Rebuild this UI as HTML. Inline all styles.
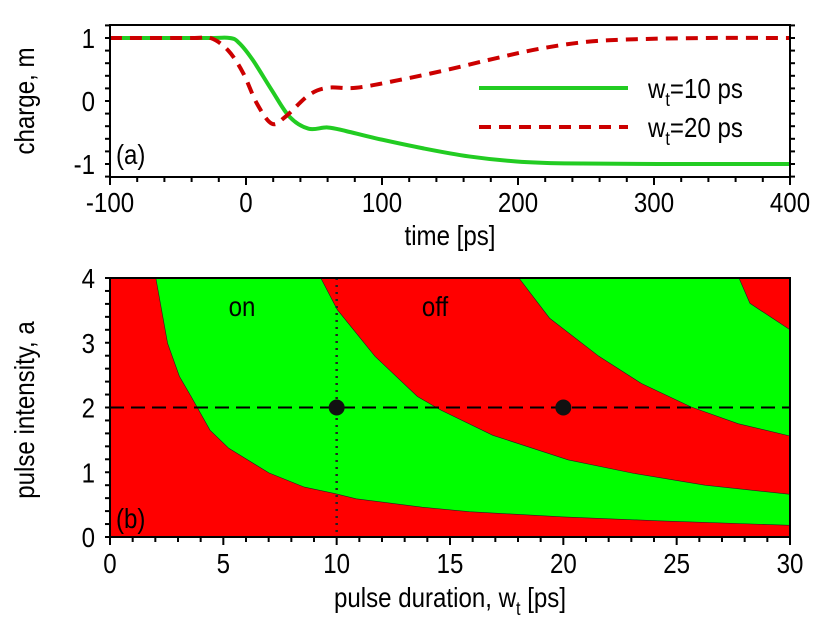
<!DOCTYPE html>
<html><head><meta charset="utf-8"><style>
body{margin:0;background:#fff}
svg text{font-family:"Liberation Sans Narrow","Liberation Sans",sans-serif;fill:#000}
</style></head><body>
<svg id="c" width="830" height="628" xmlns="http://www.w3.org/2000/svg"></svg>
<script>
// Panel (a) data
const timeG=[-100,-30,-12,-5,5,19,32,46,60,74,95,130,164,199,234,303,400];
const mG=[1,1,1,0.92,0.65,0.17,-0.25,-0.44,-0.42,-0.48,-0.59,-0.75,-0.88,-0.96,-0.99,-1,-1];
const timeR=[-100,-40,-26,-13,-2,8,19,29,46,60,81,112,147,182,216,251,286,338,400];
const mR=[1,1,1,0.8,0.44,-0.04,-0.36,-0.25,0.09,0.21,0.21,0.33,0.49,0.67,0.83,0.94,0.98,1,1];
const xTicksA=[-100,0,100,200,300,400];
const yTicksA=[-1,0,1];
// Panel (b) boundaries
const b1w=[2.02,2.54,3.06,3.58,4.41,5.24,7.01,8.57,9.92,10.86,13.77,15.85,20.01,24.17,30];
const b1a=[4,2.99,2.48,2.17,1.65,1.37,0.99,0.77,0.67,0.59,0.46,0.39,0.31,0.25,0.18];
const b2w=[9.3,10.03,11.69,13.56,14.6,16.89,20.22,23.13,26.25,30];
const b2a=[4,3.51,2.79,2.17,1.96,1.57,1.19,0.98,0.8,0.66];
const b3w=[18.04,19.39,21.57,23.45,25.63,27.71,30];
const b3a=[4,3.38,2.79,2.37,2.01,1.75,1.56];
const b4w=[27.75,28.23,30];
const b4a=[4,3.61,3.2];
const pointsW=[10,20];
const pointsA=[2,2];
const xTicksB=[0,5,10,15,20,25,30];
const yTicksB=[0,1,2,3,4];

const svg=document.getElementById('c');
const NS='http://www.w3.org/2000/svg';
function mk(t,at,par){const e=document.createElementNS(NS,t);for(const k in at)e.setAttribute(k,at[k]);(par||svg).appendChild(e);return e;}
const L=110,R=790;
const xa=t=>L+(t+100)/500*(R-L);
const ya=m=>101-m*63;
const xb=w=>L+w/30*(R-L);
const yb=a=>537-a*64.75;
function sq(x,y){return `translate(${x},${y}) scale(0.86,1)`;}

function smooth(xs,ys,fx,fy){
  const p=xs.map((v,i)=>[fx(v),fy(ys[i])]);let d='M'+p[0][0]+','+p[0][1];
  for(let i=0;i<p.length-1;i++){const p0=p[i-1]||p[i],p1=p[i],p2=p[i+1],p3=p[i+2]||p2;
    d+=` C${p1[0]+(p2[0]-p0[0])/6},${p1[1]+(p2[1]-p0[1])/6} ${p2[0]-(p3[0]-p1[0])/6},${p2[1]-(p3[1]-p1[1])/6} ${p2[0]},${p2[1]}`;}
  return d;}

// ===== Panel a =====
let g=mk('path',{d:smooth(timeG,mG,xa,ya),fill:'none',stroke:'#22cc22','stroke-width':4});

let r=mk('path',{d:smooth(timeR,mR,xa,ya),fill:'none',stroke:'#cc0000','stroke-width':4,'stroke-dasharray':'12,8'});

let fa=mk('rect',{x:L,y:25,width:R-L,height:152,fill:'none',stroke:'#000','stroke-width':2});

for(let t=-100;t<=400;t+=20){const maj=t%100==0;mk('line',{x1:xa(t),x2:xa(t),y1:177,y2:177+(maj?8:5),stroke:'#000','stroke-width':2});}
for(let m=-1.2;m<=1.21;m+=0.2){const yy=ya(m);mk('line',{x1:L-5,x2:L,y1:yy,y2:yy,stroke:'#000','stroke-width':2});mk('line',{x1:R,x2:R+5,y1:yy,y2:yy,stroke:'#000','stroke-width':2});}
xTicksA.forEach(t=>{const e=mk('text',{transform:sq(xa(t),212),'font-size':28,'text-anchor':'middle'});e.textContent=t;
});
yTicksA.forEach(m=>{const e=mk('text',{transform:sq(95,ya(m)+10),'font-size':28,'text-anchor':'end'});e.textContent=m;
});
let t1=mk('text',{transform:sq(450,245),'font-size':28,'text-anchor':'middle'});t1.textContent='time [ps]';

let t2=mk('text',{x:0,y:0,'font-size':28,'text-anchor':'middle',transform:'translate(34,101) rotate(-90) scale(0.86,1)'});t2.textContent='charge, m';

let t3=mk('text',{transform:sq(116,164),'font-size':28});t3.textContent='(a)';

let lg=mk('g',{});
mk('line',{x1:479,x2:628,y1:88,y2:88,stroke:'#22cc22','stroke-width':4},lg);
mk('line',{x1:479,x2:628,y1:127,y2:127,stroke:'#cc0000','stroke-width':4,'stroke-dasharray':'12,8'},lg);
let l1=mk('text',{transform:sq(648,98),'font-size':28},lg);l1.innerHTML='w<tspan font-size="19" dy="8">t</tspan><tspan dy="-8">=10 ps</tspan>';

let l2=mk('text',{transform:sq(648,137),'font-size':28},lg);l2.innerHTML='w<tspan font-size="19" dy="8">t</tspan><tspan dy="-8">=20 ps</tspan>';


// ===== Panel b =====
let bg=mk('rect',{x:L,y:yb(4),width:R-L,height:yb(0)-yb(4),fill:'#ff0000'});

function region(aw,aa,bw,ba){
  const pts=aw.map((w,i)=>[xb(w),yb(aa[i])]).concat(bw.map((w,i)=>[xb(w),yb(ba[i])]).reverse());
  return 'M'+pts.map(p=>p[0].toFixed(1)+','+p[1].toFixed(1)).join(' L')+' Z';}
let g1=mk('path',{d:region(b1w,b1a,b2w,b2a),fill:'#00ff00',stroke:'#222','stroke-width':0.6});

let g2=mk('path',{d:region(b3w,b3a,b4w,b4a),fill:'#00ff00',stroke:'#222','stroke-width':0.6});

let hd=mk('line',{x1:L,x2:R,y1:yb(2),y2:yb(2),stroke:'#000','stroke-width':2,'stroke-dasharray':'14,7'});

let vd=mk('line',{x1:xb(10),x2:xb(10),y1:yb(4),y2:yb(0),stroke:'#222','stroke-width':2.5,'stroke-dasharray':'2,5'});

pointsW.forEach((w,i)=>{const c=mk('ellipse',{cx:xb(w),cy:yb(pointsA[i]),rx:8,ry:8,fill:'#111'});
});
let fb=mk('rect',{x:L,y:yb(4),width:R-L,height:yb(0)-yb(4),fill:'none',stroke:'#000','stroke-width':2});

for(let w=0;w<=30;w++){const maj=w%5==0;mk('line',{x1:xb(w),x2:xb(w),y1:537,y2:537+(maj?8:5),stroke:'#000','stroke-width':2});}
for(let a=0;a<=4.01;a+=0.2){mk('line',{x1:L-5,x2:L,y1:yb(a),y2:yb(a),stroke:'#000','stroke-width':2});}
xTicksB.forEach(w=>{const e=mk('text',{transform:sq(xb(w),573),'font-size':28,'text-anchor':'middle'});e.textContent=w;
});
yTicksB.forEach(a=>{const e=mk('text',{transform:sq(95,yb(a)+10),'font-size':28,'text-anchor':'end'});e.textContent=a;
});
let bx=mk('text',{transform:sq(450,607),'font-size':28,'text-anchor':'middle'});bx.innerHTML='pulse duration, w<tspan font-size="19" dy="8">t</tspan><tspan dy="-8"> [ps]</tspan>';

let by=mk('text',{x:0,y:0,'font-size':28,'text-anchor':'middle',transform:'translate(34,410) rotate(-90) scale(0.86,1)'});by.textContent='pulse intensity, a';

let on=mk('text',{transform:sq(242,316),'font-size':28,'text-anchor':'middle'});on.textContent='on';

let off=mk('text',{transform:sq(435,316),'font-size':28,'text-anchor':'middle'});off.textContent='off';

let pb=mk('text',{transform:sq(116,528),'font-size':28});pb.textContent='(b)';

</script>
</body></html>
